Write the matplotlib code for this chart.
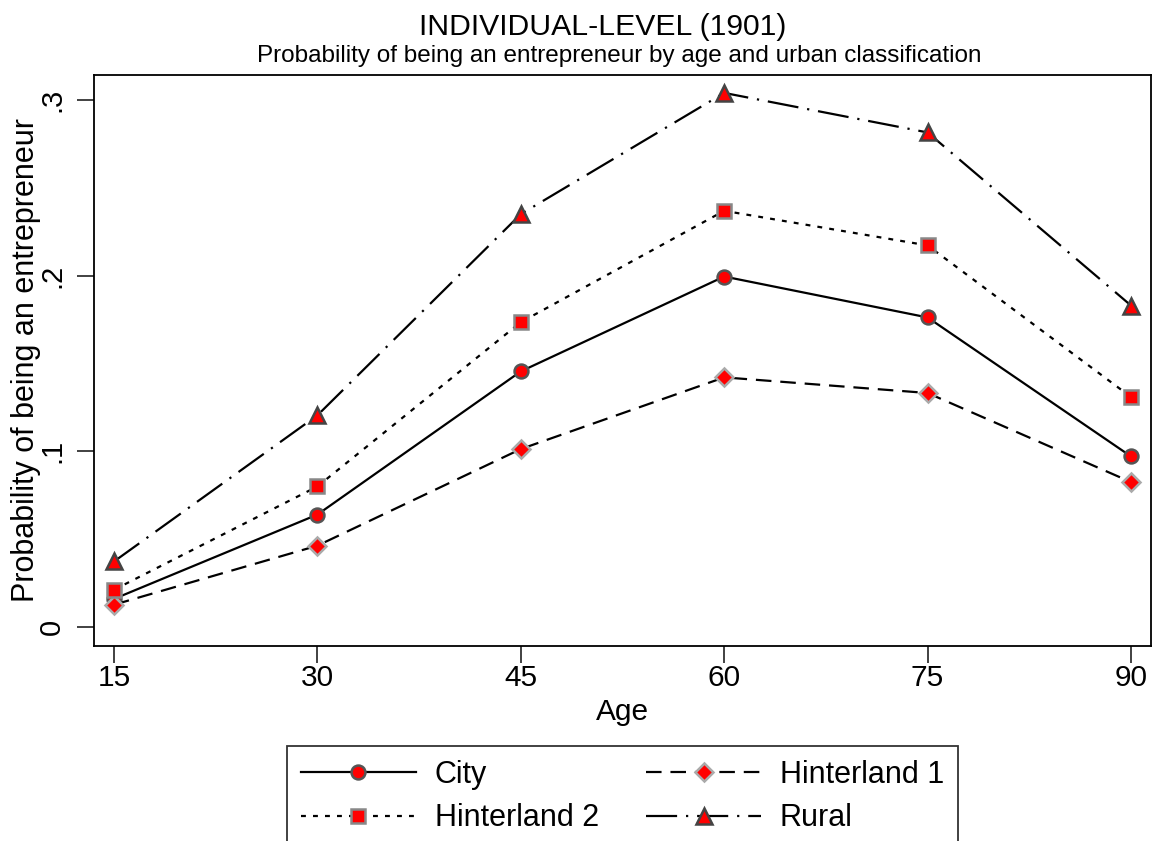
import matplotlib
matplotlib.use("Agg")
import matplotlib.pyplot as plt

plt.rcParams['font.family'] = ['Liberation Sans', 'DejaVu Sans']

ages = [15, 30, 45, 60, 75, 90]
city = [0.016, 0.064, 0.1455, 0.1995, 0.1762, 0.0971]
hinterland1 = [0.0127, 0.0463, 0.1013, 0.1421, 0.1332, 0.0825]
hinterland2 = [0.0212, 0.0800, 0.1735, 0.2369, 0.2172, 0.1309]
rural = [0.0373, 0.1205, 0.2350, 0.3040, 0.2815, 0.1830]
series_names = ["City", "Hinterland 1", "Hinterland 2", "Rural"]
yticks = [0, 0.1, 0.2, 0.3]
yticklabels = ["0", ".1", ".2", ".3"]

fig = plt.figure(figsize=(11.53, 8.41), dpi=100)
ax = fig.add_axes([94/1153, 1-646/841, (1151-94)/1153, (646-75)/841])

lw = 1.6
h_city, = ax.plot(ages, city, color='black', lw=lw, linestyle='-',
                  marker='o', ms=10, mfc='red', mec='#555555', mew=1.8, label=series_names[0])
h_h1, = ax.plot(ages, hinterland1, color='black', lw=lw, linestyle=(0, (7, 4)),
                marker='D', ms=9.5, mfc='red', mec='#aaaaaa', mew=1.8, label=series_names[1])
h_h2, = ax.plot(ages, hinterland2, color='black', lw=lw, linestyle=(0, (2.2, 3.2)),
                marker='s', ms=10, mfc='red', mec='#888888', mew=1.8, label=series_names[2])
h_r, = ax.plot(ages, rural, color='black', lw=lw, linestyle=(0, (14, 4, 1, 4)),
               marker='^', ms=11.5, mfc='red', mec='#444444', mew=1.8, label=series_names[3])

ax.set_xlim(13.525, 91.475)
ax.set_ylim(-0.0108, 0.3142)
ax.set_xticks(ages)
ax.set_xticklabels([str(a) for a in ages], fontsize=21.5)
ax.set_yticks(yticks)
ax.set_yticklabels(yticklabels, fontsize=21, rotation=90, va='center')
ax.tick_params(axis='both', direction='out', length=12, width=1.3, color='#333333')
ax.tick_params(axis='x', pad=1)
ax.tick_params(axis='y', pad=8)
for s in ax.spines.values():
    s.set_linewidth(1.3)
    s.set_color('black')

ax.set_xlabel("Age", fontsize=21.5)
ax.xaxis.set_label_coords(0.5, (646-698)/571)
ax.set_ylabel("Probability of being an entrepreneur", fontsize=22)
ax.yaxis.set_label_coords((41-94)/1057, 0.5)

fig.text(603/1153, 1-35/841, "INDIVIDUAL-LEVEL (1901)", ha='center', va='baseline', fontsize=21.7)
fig.text(619/1153, 1-62/841, "Probability of being an entrepreneur by age and urban classification",
         ha='center', va='baseline', fontsize=17.5)

order = [h_city, h_h2, h_h1, h_r]
order_labels = [series_names[0], series_names[2], series_names[1], series_names[3]]
leg = fig.legend(order, order_labels, ncol=2,
                 loc='upper left', bbox_to_anchor=(287/1153, 1-746/841),
                 fontsize=22, frameon=True, fancybox=False, edgecolor='black',
                 handlelength=3.76, handletextpad=0.62, columnspacing=1.55,
                 borderpad=0.45, labelspacing=0.45, borderaxespad=0)
leg.get_frame().set_linewidth(1.3)
for h in leg.legend_handles:
    h.set_markevery([1])

fig.savefig("out.png", dpi=100)
